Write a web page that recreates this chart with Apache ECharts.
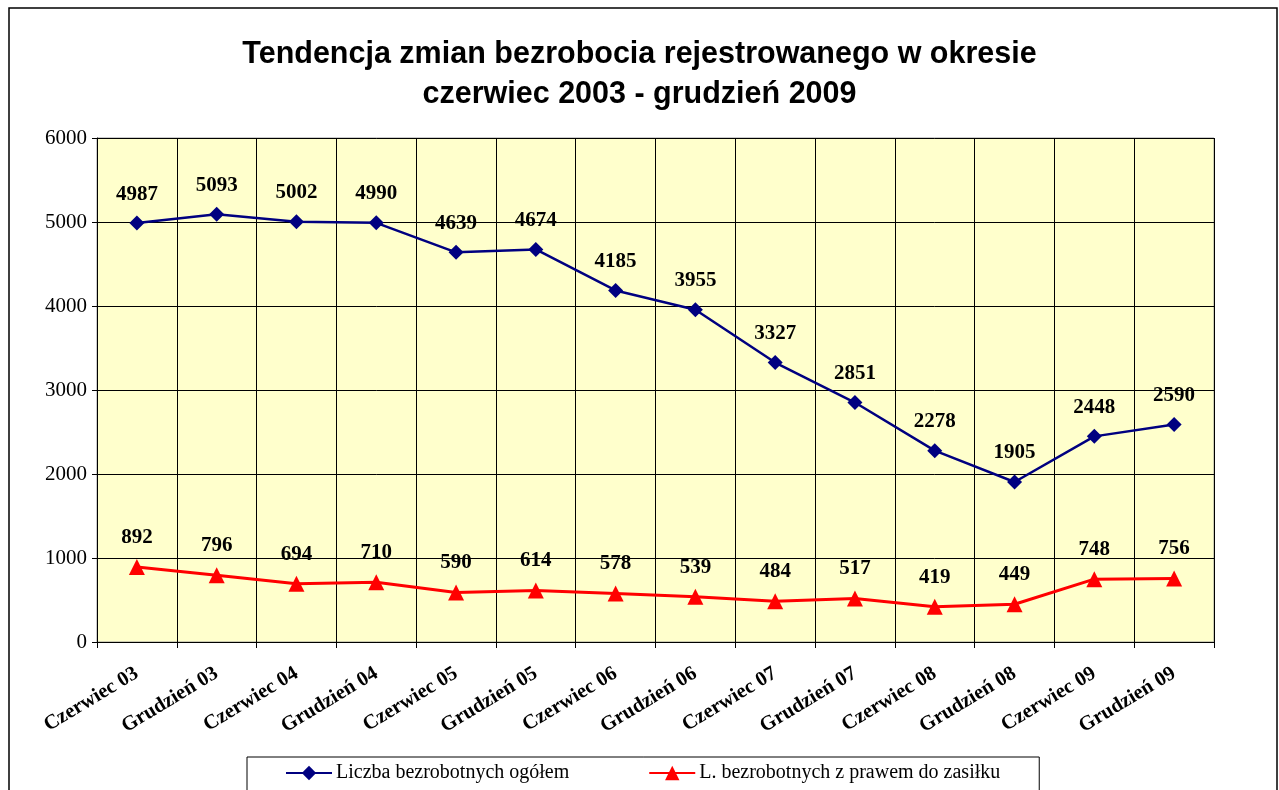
<!DOCTYPE html>
<html><head><meta charset="utf-8">
<script src="https://cdn.jsdelivr.net/npm/echarts@6/dist/echarts.min.js"></script>
<style>html,body{margin:0;padding:0;background:#fff}#c{width:1279px;height:790px}</style>
</head><body><div id="c"></div>
<script>
var categories = ['Czerwiec 03','Grudzień 03','Czerwiec 04','Grudzień 04','Czerwiec 05','Grudzień 05','Czerwiec 06','Grudzień 06','Czerwiec 07','Grudzień 07','Czerwiec 08','Grudzień 08','Czerwiec 09','Grudzień 09'];
var totalUnemployed = [4987,5093,5002,4990,4639,4674,4185,3955,3327,2851,2278,1905,2448,2590];
var withBenefit = [892,796,694,710,590,614,578,539,484,517,419,449,748,756];
var seriesNames = ['Liczba bezrobotnych ogółem','L. bezrobotnych z prawem do zasiłku'];
var titleLines = 'Tendencja zmian bezrobocia rejestrowanego w okresie\nczerwiec 2003 - grudzień 2009';

var serif = '"Liberation Serif","Times New Roman",serif';
var chart = echarts.init(document.getElementById('c'));
chart.setOption({
  animation: false,
  backgroundColor: '#fff',
  graphic: [{type:'rect', shape:{x:9,y:8,width:1268,height:800}, style:{fill:'none', stroke:'#000', lineWidth:1.5}, silent:true, z:-1}],
  title: {text: titleLines, left: 'center', top: 30,
    textStyle:{fontFamily:'"Liberation Sans",Arial,sans-serif', fontWeight:'bold', fontSize:30.5, lineHeight:40, color:'#000'}},
  legend: {left: 247, top: 757, itemWidth: 46, itemHeight: 18, itemGap: 79,
    padding:[6,39,20,38], borderColor:'#000', borderWidth:1, backgroundColor:'#fff',
    textStyle:{fontFamily:serif, fontSize:20, color:'#000', padding:[0,0,0,-1]}},
  grid: {left: 97, right: 65, top: 138, bottom: 148, show: true, backgroundColor:'#FFFFCC', borderColor:'#999', borderWidth:1},
  xAxis: {type:'category', data: categories, boundaryGap: true,
    axisLine:{lineStyle:{color:'#000'}},
    axisTick:{show:true, length:6, lineStyle:{color:'#000'}},
    splitLine:{show:true, lineStyle:{color:'#000', width:1}},
    axisLabel:{rotate:31, interval:0, margin:30, fontFamily:serif, fontWeight:'bold', fontSize:20.5, color:'#000'}},
  yAxis: {type:'value', min:0, max:6000, interval:1000,
    axisLine:{show:true, lineStyle:{color:'#000'}},
    axisTick:{show:true, length:5, lineStyle:{color:'#000'}},
    splitLine:{lineStyle:{color:'#000', width:1}},
    axisLabel:{margin:10, fontFamily:serif, fontSize:21, color:'#000', formatter:function(v){return String(v);}}},
  series: [
    {name: seriesNames[0], type:'line', data: totalUnemployed, symbol:'diamond', symbolSize:15,
      lineStyle:{color:'#000080', width:2.5}, itemStyle:{color:'#000080'},
      label:{show:true, position:'top', distance:11, fontFamily:serif, fontWeight:'bold', fontSize:21, color:'#000'}},
    {name: seriesNames[1], type:'line', data: withBenefit, symbol:'triangle', symbolSize:16,
      lineStyle:{color:'#FF0000', width:3}, itemStyle:{color:'#FF0000'},
      label:{show:true, position:'top', distance:11, fontFamily:serif, fontWeight:'bold', fontSize:21, color:'#000'}}
  ]
});
</script></body></html>
